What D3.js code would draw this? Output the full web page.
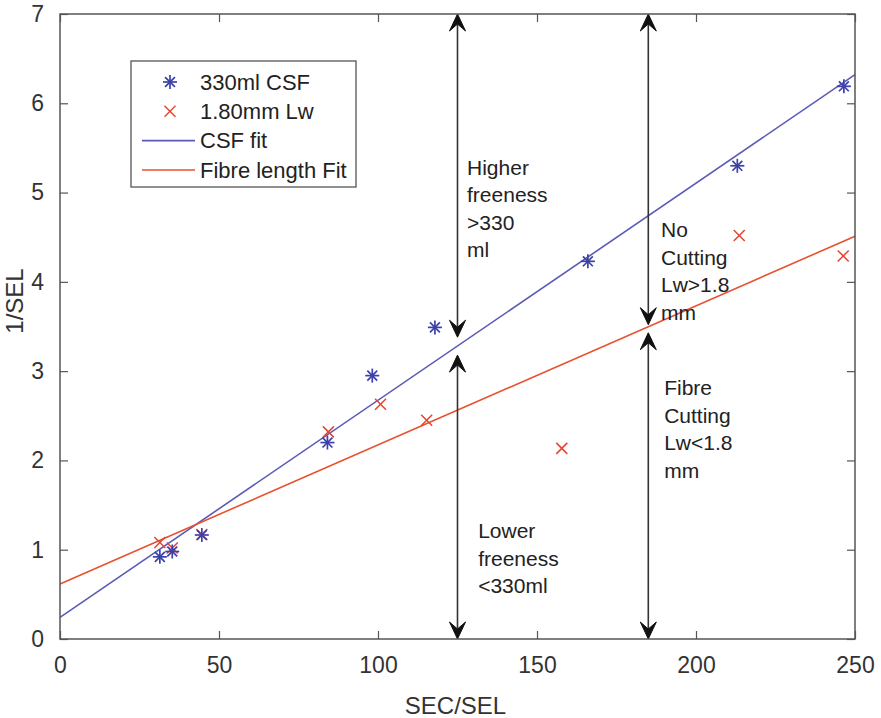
<!DOCTYPE html>
<html>
<head>
<meta charset="utf-8">
<script src="https://cdn.jsdelivr.net/npm/d3@7"></script>
<style>
  body { margin: 0; background: #fff; }
  text { font-family: "Liberation Sans", Arial, sans-serif; fill: #333; }
</style>
</head>
<body>
<div id="chart"></div>
<script>
// data
var csfX = [31.4, 35.3, 44.6, 84.1, 98.2, 117.9, 166.0, 213.0, 246.5];
var csfY = [0.92, 0.98, 1.165, 2.20, 2.95, 3.49, 4.23, 5.30, 6.19];
var lwX = [31.4, 35.3, 44.6, 84.4, 100.8, 115.3, 157.8, 213.6, 246.3];
var lwY = [1.08, 1.02, 1.17, 2.32, 2.63, 2.45, 2.135, 4.52, 4.29];
// linear fits: [intercept, slope]
var csfFit = [0.243, 0.02431];
var lwFit = [0.616, 0.01558];
var xTicks = [0, 50, 100, 150, 200, 250];
var yTicks = [0, 1, 2, 3, 4, 5, 6, 7];
var legendLabels = ["330ml CSF", "1.80mm Lw", "CSF fit", "Fibre length Fit"];
// double arrows: x, from, to (heads at both ends)
var arrows = [
  {x: 125, a: 7, b: 3.38},
  {x: 125, a: 3.18, b: 0},
  {x: 185, a: 7, b: 3.52},
  {x: 185, a: 3.43, b: 0}
];
var notes = [
  {x: 128, y: 5.28, lines: ["Higher", "freeness", ">330", "ml"]},
  {x: 189, y: 4.58, lines: ["No", "Cutting", "Lw>1.8", "mm"]},
  {x: 190, y: 2.81, lines: ["Fibre", "Cutting", "Lw<1.8", "mm"]},
  {x: 131.5, y: 1.21, lines: ["Lower", "freeness", "<330ml"]}
];

var W = 881, H = 718;
var margin = {left: 60, top: 14, right: 26, bottom: 79};
var width = W - margin.left - margin.right,
    height = H - margin.top - margin.bottom;

var blue = "#3c41a8", red = "#e5452f";
var blueLine = "#5a5ab8", redLine = "#e8502f";
var axisColor = "#555";

var x = d3.scaleLinear().domain([0, 250]).range([0, width]);
var y = d3.scaleLinear().domain([0, 7]).range([height, 0]);

var svg = d3.select("#chart").append("svg")
  .attr("width", W)
  .attr("height", H)
  .append("g")
  .attr("transform", "translate(" + margin.left + "," + margin.top + ")");

// fit lines
function fitLine(c, color) {
  var dom = x.domain();
  svg.append("line")
    .attr("x1", x(dom[0])).attr("y1", y(c[0] + c[1] * dom[0]))
    .attr("x2", x(dom[1])).attr("y2", y(c[0] + c[1] * dom[1]))
    .style("stroke", color)
    .style("stroke-width", 1.6);
}
fitLine(csfFit, blueLine);
fitLine(lwFit, redLine);

// markers
function asterisk(g, r) {
  [0, 45, 90, 135].forEach(function (a) {
    var t = a * Math.PI / 180;
    g.append("line")
      .attr("x1", -r * Math.cos(t)).attr("y1", -r * Math.sin(t))
      .attr("x2", r * Math.cos(t)).attr("y2", r * Math.sin(t));
  });
}
function cross(g, r) {
  g.append("line").attr("x1", -r).attr("y1", -r).attr("x2", r).attr("y2", r);
  g.append("line").attr("x1", -r).attr("y1", r).attr("x2", r).attr("y2", -r);
}

svg.selectAll(".lw")
  .data(d3.zip(lwX, lwY))
  .enter().append("g")
  .attr("class", "lw")
  .attr("transform", function (d) { return "translate(" + x(d[0]) + "," + y(d[1]) + ")"; })
  .style("stroke", red)
  .style("stroke-width", 1.5)
  .each(function () { cross(d3.select(this), 5.5); });

svg.selectAll(".csf")
  .data(d3.zip(csfX, csfY))
  .enter().append("g")
  .attr("class", "csf")
  .attr("transform", function (d) { return "translate(" + x(d[0]) + "," + y(d[1]) + ")"; })
  .style("stroke", blue)
  .style("stroke-width", 1.7)
  .each(function () { asterisk(d3.select(this), 7); });

// arrows
function head(px, py, dir) {
  // dir = -1 points up, 1 points down
  var L = 17, w = 8, n = 10;
  var p = [[px, py], [px - w, py - dir * L], [px, py - dir * n], [px + w, py - dir * L]];
  svg.append("path")
    .attr("d", "M" + p.join("L") + "Z")
    .style("fill", "#111")
    .style("stroke", "#111")
    .style("stroke-width", 1)
    .style("stroke-linejoin", "round");
}
arrows.forEach(function (d) {
  var ya = y(d.a), yb = y(d.b);
  svg.append("line")
    .attr("x1", x(d.x)).attr("x2", x(d.x))
    .attr("y1", ya + 6).attr("y2", yb - 6)
    .style("stroke", "#333")
    .style("stroke-width", 1.6);
  head(x(d.x), ya, -1);
  head(x(d.x), yb, 1);
});

// notes
notes.forEach(function (d) {
  var t = svg.append("text")
    .attr("x", x(d.x))
    .attr("y", y(d.y))
    .style("font-size", "21px")
    .style("fill", "#222");
  d.lines.forEach(function (s, i) {
    t.append("tspan")
      .attr("x", x(d.x))
      .attr("dy", i === 0 ? "0.35em" : 27.5)
      .text(s);
  });
});

// axes box with inward ticks
svg.append("rect")
  .attr("width", width).attr("height", height)
  .style("fill", "none")
  .style("stroke", axisColor)
  .style("stroke-width", 1.5);

var tickLen = 8;
function styleAxis(g) {
  g.select(".domain").remove();
  g.selectAll(".tick line").style("stroke", axisColor).style("stroke-width", 1.2);
  g.selectAll("text").style("font-size", "23px").style("fill", "#333")
    .style("font-family", "'Liberation Sans', Arial, sans-serif");
}
svg.append("g")
  .attr("transform", "translate(0," + height + ")")
  .call(d3.axisBottom(x).tickValues(xTicks).tickFormat(d3.format("d"))
    .tickSizeInner(-tickLen).tickSizeOuter(0).tickPadding(18))
  .call(styleAxis);
svg.append("g")
  .call(d3.axisTop(x).tickValues(xTicks).tickSizeInner(-tickLen).tickSizeOuter(0).tickFormat(""))
  .call(styleAxis);
svg.append("g")
  .call(d3.axisLeft(y).tickValues(yTicks).tickFormat(d3.format("d"))
    .tickSizeInner(-tickLen).tickSizeOuter(0).tickPadding(16))
  .call(styleAxis);
svg.append("g")
  .attr("transform", "translate(" + width + ",0)")
  .call(d3.axisRight(y).tickValues(yTicks).tickSizeInner(-tickLen).tickSizeOuter(0).tickFormat(""))
  .call(styleAxis);

// axis labels
svg.append("text")
  .attr("x", x(125) - 2)
  .attr("y", height + 75)
  .attr("text-anchor", "middle")
  .style("font-size", "24px")
  .text("SEC/SEL");
svg.append("text")
  .attr("transform", "translate(" + (23 - margin.left) + "," + (301 - margin.top) + ") rotate(-90)")
  .attr("text-anchor", "middle")
  .style("font-size", "24px")
  .text("1/SEL");

// legend
var lg = svg.append("g").attr("transform", "translate(" + (131 - margin.left) + "," + (61 - margin.top) + ")");
lg.append("rect")
  .attr("width", 225).attr("height", 126)
  .style("fill", "#fff")
  .style("stroke", axisColor)
  .style("stroke-width", 1.3);
var rowY = d3.scalePoint().domain(legendLabels).range([21, 109]);
legendLabels.forEach(function (lab, i) {
  var ry = rowY(lab);
  if (i === 0) {
    var g = lg.append("g").attr("transform", "translate(39," + ry + ")")
      .style("stroke", blue).style("stroke-width", 1.7);
    asterisk(g, 7);
  } else if (i === 1) {
    var g2 = lg.append("g").attr("transform", "translate(39," + ry + ")")
      .style("stroke", red).style("stroke-width", 1.5);
    cross(g2, 5.5);
  } else {
    lg.append("line")
      .attr("x1", 11).attr("x2", 64).attr("y1", ry).attr("y2", ry)
      .style("stroke", i === 2 ? blueLine : redLine)
      .style("stroke-width", 1.6);
  }
  lg.append("text")
    .attr("x", 69)
    .attr("y", ry)
    .attr("dy", "0.35em")
    .style("font-size", "22px")
    .style("fill", "#222")
    .text(lab);
});
</script>
</body>
</html>
